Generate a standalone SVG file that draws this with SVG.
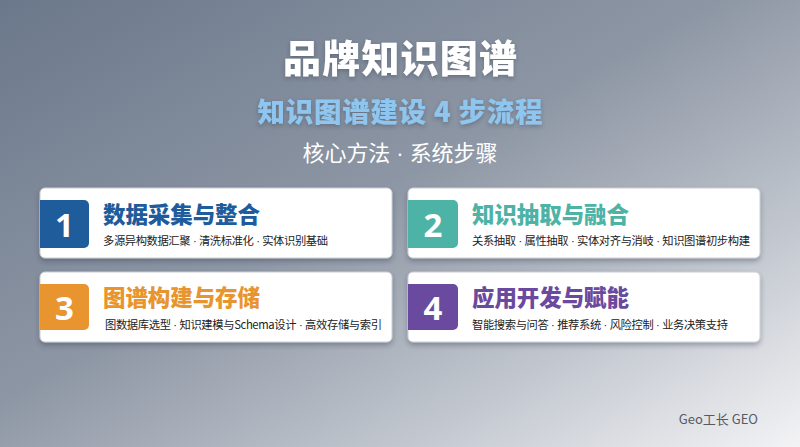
<svg xmlns="http://www.w3.org/2000/svg" width="800" height="447" viewBox="0 0 800 447">
<defs>
<linearGradient id="bg" x1="0" y1="0" x2="1" y2="1">
<stop offset="0" stop-color="#6b788b"/>
<stop offset="0.45" stop-color="#8d96a4"/>
<stop offset="0.75" stop-color="#c2c7cf"/>
<stop offset="1" stop-color="#f3f3f5"/>
</linearGradient>
<filter id="sh" x="-10%" y="-20%" width="120%" height="150%">
<feDropShadow dx="0" dy="3" stdDeviation="2.5" flood-color="#2a3444" flood-opacity="0.35"/>
</filter>
<filter id="tsh" x="-10%" y="-30%" width="120%" height="160%">
<feDropShadow dx="0" dy="2" stdDeviation="2" flood-color="#2a3444" flood-opacity="0.35"/>
</filter>
</defs>
<style>
.cjk{font-family:"Noto Sans CJK SC","Noto Sans",sans-serif}
.dot{font-family:"Liberation Sans",sans-serif}
.card{fill:#ffffff;stroke:#c9ced6;stroke-width:1}
.num{font-family:"Noto Sans","Noto Sans CJK SC",sans-serif;font-weight:700;font-size:33px;fill:#ffffff;text-anchor:middle}
.ct{font-family:"Noto Sans CJK SC",sans-serif;font-weight:900;font-size:22.5px}
.cs{font-family:"Noto Sans CJK SC",sans-serif;font-size:11.3px;fill:#222222}
</style>
<rect x="0" y="0" width="800" height="447" fill="url(#bg)"/>
<g id="header">
<text x="400" y="72" class="cjk" font-size="38" font-weight="900" fill="#ffffff" text-anchor="middle" filter="url(#tsh)" textLength="234">品牌知识图谱</text>
<text x="400" y="122" class="cjk" font-size="27.5" font-weight="900" fill="#8ec6f0" text-anchor="middle" filter="url(#tsh)" textLength="285">知识图谱建设 4 步流程</text>
<text x="400" y="161" class="cjk" font-size="22" fill="#ffffff" text-anchor="middle" textLength="195">核心方法<tspan class="dot"> · </tspan>系统步骤</text>
</g>
<g id="step1">
<rect class="card" x="40" y="188" width="352" height="70" rx="5" filter="url(#sh)"/>
<path d="M40 200 H84 a5 5 0 0 1 5 5 V243 a5 5 0 0 1 -5 5 H40 Z" fill="#1e5c9c"/>
<text class="num" x="64.5" y="237">1</text>
<text class="ct" x="103" y="223" fill="#1e5c9c" textLength="157">数据采集与整合</text>
<text class="cs" x="103" y="245" textLength="225">多源异构数据汇聚<tspan class="dot"> · </tspan>清洗标准化<tspan class="dot"> · </tspan>实体识别基础</text>
</g>
<g id="step2">
<rect class="card" x="408" y="188" width="352" height="70" rx="5" filter="url(#sh)"/>
<path d="M408 200 H453 a5 5 0 0 1 5 5 V243 a5 5 0 0 1 -5 5 H408 Z" fill="#4db3a6"/>
<text class="num" x="433" y="237">2</text>
<text class="ct" x="472" y="223" fill="#4db3a6" textLength="157">知识抽取与融合</text>
<text class="cs" x="472" y="245" textLength="278">关系抽取<tspan class="dot"> · </tspan>属性抽取<tspan class="dot"> · </tspan>实体对齐与消岐<tspan class="dot"> · </tspan>知识图谱初步构建</text>
</g>
<g id="step3">
<rect class="card" x="40" y="272" width="352" height="70" rx="5" filter="url(#sh)"/>
<path d="M40 284 H84 a5 5 0 0 1 5 5 V325 a5 5 0 0 1 -5 5 H40 Z" fill="#e8952f"/>
<text class="num" x="64.5" y="320">3</text>
<text class="ct" x="103" y="306" fill="#e8952f" textLength="157">图谱构建与存储</text>
<text class="cs" x="105" y="329" textLength="277">图数据库选型<tspan class="dot"> · </tspan>知识建模与Schema设计<tspan class="dot"> · </tspan>高效存储与索引</text>
</g>
<g id="step4">
<rect class="card" x="408" y="272" width="352" height="70" rx="5" filter="url(#sh)"/>
<path d="M408 284 H453 a5 5 0 0 1 5 5 V325 a5 5 0 0 1 -5 5 H408 Z" fill="#6a4a9e"/>
<text class="num" x="433" y="320">4</text>
<text class="ct" x="472" y="306" fill="#6a4a9e" textLength="157">应用开发与赋能</text>
<text class="cs" x="472" y="329" textLength="256">智能搜索与问答<tspan class="dot"> · </tspan>推荐系统<tspan class="dot"> · </tspan>风险控制<tspan class="dot"> · </tspan>业务决策支持</text>
</g>
<g id="connectors"></g>
<text x="758" y="424" class="cjk" font-size="13" fill="#555a62" text-anchor="end">Geo工长 GEO</text>
</svg>
